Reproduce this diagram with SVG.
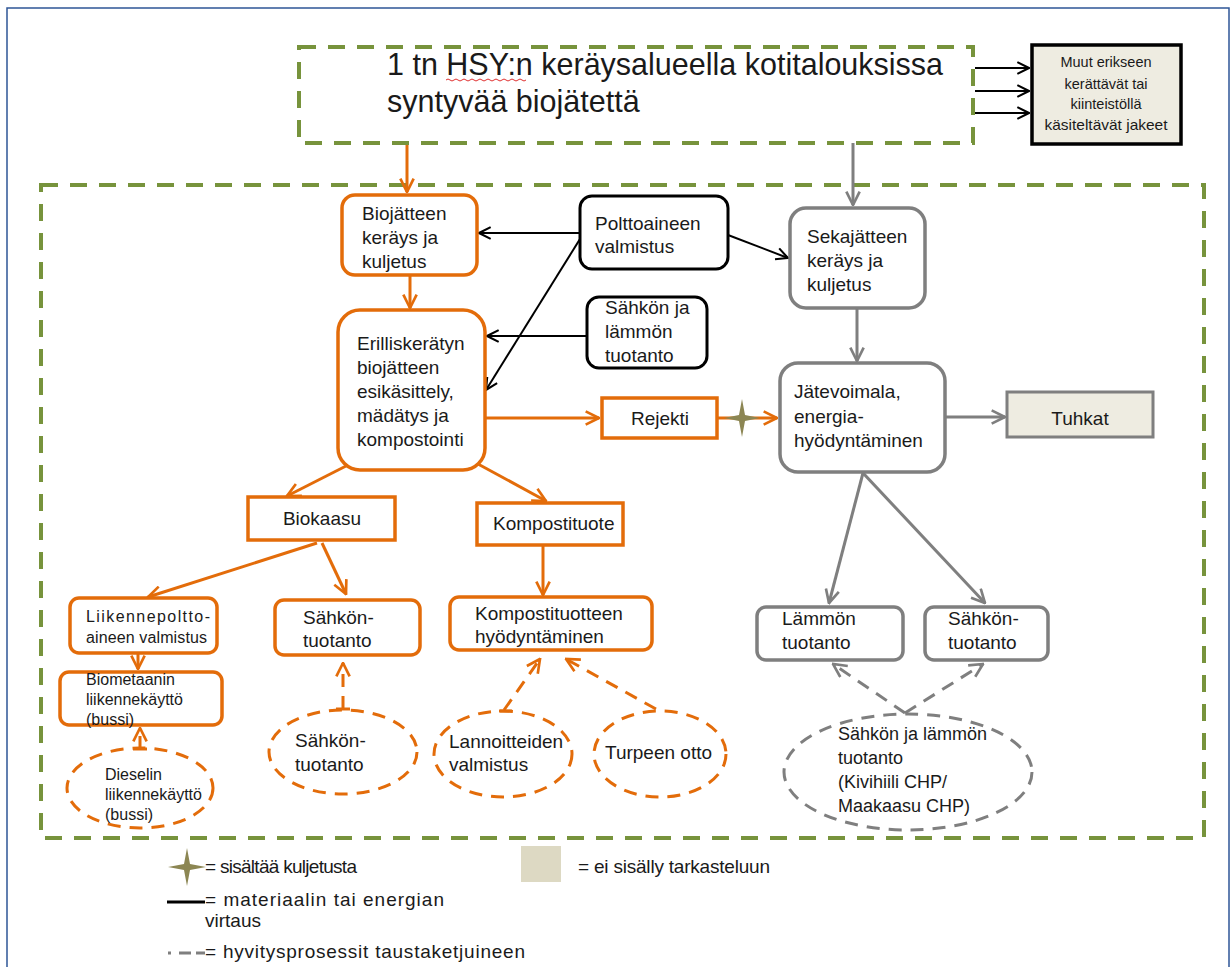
<svg xmlns="http://www.w3.org/2000/svg" width="1232" height="967" viewBox="0 0 1232 967">
<style>
text{font-family:"Liberation Sans",Arial,sans-serif;fill:#1a1a1a;}
.t19{font-size:19px;}
.t18{font-size:18px;}
.t16{font-size:16px;}
.t14{font-size:14.5px;}
.lg{font-size:19px;}
.ob{fill:#fff;stroke:#E36C0A;stroke-width:3.5;}
.gb{fill:#fff;stroke:#7F7F7F;stroke-width:3.5;}
.kb{fill:#fff;stroke:#000;stroke-width:3;}
.grn{fill:none;stroke:#77933C;stroke-width:4;stroke-dasharray:17 12;}
.oa{fill:none;stroke:#E36C0A;stroke-width:3;}
.ga{fill:none;stroke:#7F7F7F;stroke-width:3;}
.ka{fill:none;stroke:#000;stroke-width:2;}
.od{fill:none;stroke:#E36C0A;stroke-width:3;stroke-dasharray:13 9;}
.gd{fill:none;stroke:#7F7F7F;stroke-width:3;stroke-dasharray:13 9;}
.star{fill:#8C8653;}
</style>
<defs>
<marker id="mo" viewBox="0 0 12 12" refX="11" refY="6" markerWidth="16" markerHeight="16" markerUnits="userSpaceOnUse" orient="auto"><path d="M1,1 L11,6 L1,11" fill="none" stroke="#E36C0A" stroke-width="2"/></marker>
<marker id="mg" viewBox="0 0 12 12" refX="11" refY="6" markerWidth="16" markerHeight="16" markerUnits="userSpaceOnUse" orient="auto"><path d="M1,1 L11,6 L1,11" fill="none" stroke="#7F7F7F" stroke-width="2"/></marker>
<marker id="mk" viewBox="0 0 12 12" refX="11" refY="6" markerWidth="14" markerHeight="14" markerUnits="userSpaceOnUse" orient="auto"><path d="M1,1 L11,6 L1,11" fill="none" stroke="#000" stroke-width="1.8"/></marker>
</defs>
<rect x="7" y="8" width="1222" height="975" fill="#fff" stroke="#2E5597" stroke-width="1.5"/>
<rect class="grn" x="41" y="185" width="1163" height="653"/>

<g id="connectors">
<line class="oa" x1="407" y1="143" x2="407" y2="192" marker-end="url(#mo)"/>
<line class="ga" x1="853" y1="143" x2="853" y2="205" marker-end="url(#mg)"/>
<line class="ka" x1="975" y1="68" x2="1029" y2="68" marker-end="url(#mk)"/>
<line class="ka" x1="975" y1="91" x2="1029" y2="91" marker-end="url(#mk)"/>
<line class="ka" x1="975" y1="113" x2="1029" y2="113" marker-end="url(#mk)"/>
<line class="ka" x1="580" y1="233" x2="479" y2="233" marker-end="url(#mk)"/>
<line class="ka" x1="580" y1="239" x2="486" y2="390" marker-end="url(#mk)"/>
<line class="ka" x1="728" y1="235" x2="788" y2="258" marker-end="url(#mk)"/>
<line class="ka" x1="587" y1="336" x2="487" y2="336" marker-end="url(#mk)"/>
<line class="oa" x1="410" y1="275" x2="410" y2="308" marker-end="url(#mo)"/>
<line class="oa" x1="485" y1="418" x2="599" y2="418" marker-end="url(#mo)"/>
<line class="oa" x1="717" y1="418" x2="777" y2="418" marker-end="url(#mo)"/>
<line class="ga" x1="857" y1="308" x2="857" y2="361" marker-end="url(#mg)"/>
<line class="ga" x1="945" y1="417" x2="1005" y2="417" marker-end="url(#mg)"/>
<line class="ga" x1="863" y1="473" x2="829" y2="603" marker-end="url(#mg)"/>
<line class="ga" x1="863" y1="473" x2="985" y2="603" marker-end="url(#mg)"/>
<line class="oa" x1="348" y1="465" x2="287" y2="496" marker-end="url(#mo)"/>
<line class="oa" x1="478" y1="464" x2="546" y2="501" marker-end="url(#mo)"/>
<line class="oa" x1="317" y1="543" x2="148" y2="597" marker-end="url(#mo)"/>
<line class="oa" x1="322" y1="543" x2="346" y2="594" marker-end="url(#mo)"/>
<line class="oa" x1="138" y1="653" x2="138" y2="669" marker-end="url(#mo)"/>
<line class="oa" x1="543" y1="545" x2="543" y2="595" marker-end="url(#mo)"/>
<line class="od" x1="140" y1="749" x2="140" y2="728" marker-end="url(#mo)"/>
<line class="oa" x1="133" y1="749" x2="147" y2="749"/>
<line class="od" x1="343" y1="709" x2="343" y2="663" marker-end="url(#mo)"/>
<line class="oa" x1="336" y1="709" x2="350" y2="709"/>
<line class="od" x1="504" y1="710" x2="540" y2="659" marker-end="url(#mo)"/>
<line class="oa" x1="499" y1="711" x2="512" y2="711"/>
<line class="od" x1="656" y1="709" x2="566" y2="659" marker-end="url(#mo)"/>
<line class="gd" x1="905" y1="713" x2="833" y2="664" marker-end="url(#mg)"/>
<line class="gd" x1="905" y1="713" x2="983" y2="664" marker-end="url(#mg)"/>
<path class="star" d="M742,399 L745,415 L760,418 L745,421 L742,437 L739,421 L724,418 L739,415 Z"/>
</g>

<g id="top">
<rect class="grn" x="299" y="47" width="674" height="96"/>
<text x="387" y="75" font-size="30.5">1 tn HSY:n keräysalueella kotitalouksissa</text>
<text x="387" y="112" font-size="30.5">syntyvää biojätettä</text>
<path d="M446,80 q2,-2 4,0 t4,0 t4,0 t4,0 t4,0 t4,0 t4,0 t4,0 t4,0 t4,0 t4,0 t4,0 t4,0 t4,0 t4,0 t4,0 t4,0 t4,0 t4,0 t4,0" fill="none" stroke="#E03030" stroke-width="1"/>
</g>

<g id="muut">
<rect x="1032" y="45" width="149" height="99" fill="#EEECE1" stroke="#000" stroke-width="3.5"/>
<text class="t14" x="1106" y="67" text-anchor="middle">Muut erikseen</text>
<text class="t14" x="1106" y="89" text-anchor="middle">kerättävät tai</text>
<text class="t14" x="1106" y="109" text-anchor="middle">kiinteistöllä</text>
<text class="t14" x="1106" y="130" text-anchor="middle" textLength="123" lengthAdjust="spacingAndGlyphs">käsiteltävät jakeet</text>
</g>

<g id="biojatteen">
<rect class="ob" x="342" y="195" width="135" height="80" rx="13"/>
<text class="t19" x="362" y="220">Biojätteen</text>
<text class="t19" x="362" y="244">keräys ja</text>
<text class="t19" x="362" y="268">kuljetus</text>
</g>

<g id="polttoaineen">
<rect class="kb" x="580" y="196" width="148" height="73" rx="12"/>
<text class="t19" x="595" y="230">Polttoaineen</text>
<text class="t19" x="595" y="253">valmistus</text>
</g>

<g id="sahkon-lammon">
<rect class="kb" x="587" y="297" width="120" height="71" rx="12"/>
<text class="t19" x="605" y="314">Sähkön ja</text>
<text class="t19" x="605" y="338">lämmön</text>
<text class="t19" x="605" y="362">tuotanto</text>
</g>

<g id="erilliskeratyn">
<rect class="ob" x="338" y="310" width="147" height="160" rx="22"/>
<text class="t19" x="357" y="350">Erilliskerätyn</text>
<text class="t19" x="357" y="374">biojätteen</text>
<text class="t19" x="357" y="398">esikäsittely,</text>
<text class="t19" x="357" y="422">mädätys ja</text>
<text class="t19" x="357" y="446">kompostointi</text>
</g>

<g id="rejekti">
<rect class="ob" x="602" y="398" width="115" height="40"/>
<text class="t19" x="660" y="425" text-anchor="middle">Rejekti</text>
</g>

<g id="sekajatteen">
<rect class="gb" x="790" y="208" width="135" height="100" rx="16"/>
<text class="t19" x="807" y="243">Sekajätteen</text>
<text class="t19" x="807" y="267">keräys ja</text>
<text class="t19" x="807" y="291">kuljetus</text>
</g>

<g id="jatevoimala">
<rect class="gb" x="780" y="363" width="165" height="109" rx="18"/>
<text class="t19" x="794" y="398">Jätevoimala,</text>
<text class="t19" x="794" y="423">energia-</text>
<text class="t19" x="794" y="447">hyödyntäminen</text>
</g>

<g id="tuhkat">
<rect x="1007" y="392" width="146" height="45" fill="#EEECE1" stroke="#7F7F7F" stroke-width="3"/>
<text class="t19" x="1080" y="425" text-anchor="middle">Tuhkat</text>
</g>

<g id="biokaasu">
<rect class="ob" x="248" y="497" width="147" height="43"/>
<text class="t19" x="322" y="525" text-anchor="middle">Biokaasu</text>
</g>

<g id="kompostituote">
<rect class="ob" x="477" y="503" width="146" height="42"/>
<text class="t19" x="493" y="530">Kompostituote</text>
</g>

<g id="liikennepoltto">
<rect class="ob" x="70" y="598" width="147" height="55" rx="9"/>
<text class="t16" x="86" y="622" textLength="124" lengthAdjust="spacing">Liikennepoltto-</text>
<text class="t16" x="86" y="643" textLength="121" lengthAdjust="spacing">aineen valmistus</text>
</g>

<g id="biometaanin">
<rect class="ob" x="60" y="672" width="162" height="53" rx="9"/>
<text class="t16" x="86" y="685">Biometaanin</text>
<text class="t16" x="86" y="705">liikennekäyttö</text>
<text class="t16" x="86" y="725">(bussi)</text>
</g>

<g id="dieselin">
<ellipse class="od" cx="140" cy="788" rx="73" ry="40"/>
<text class="t16" x="105" y="780">Dieselin</text>
<text class="t16" x="105" y="800">liikennekäyttö</text>
<text class="t16" x="105" y="820">(bussi)</text>
</g>

<g id="sahkontuotanto-o">
<rect class="ob" x="275" y="600" width="145" height="55" rx="9"/>
<text class="t19" x="303" y="624">Sähkön-</text>
<text class="t19" x="303" y="647">tuotanto</text>
</g>

<g id="sahkontuotanto-e">
<ellipse class="od" cx="343" cy="752" rx="74" ry="42"/>
<text class="t19" x="295" y="747">Sähkön-</text>
<text class="t19" x="295" y="771">tuotanto</text>
</g>

<g id="kompostituotteen">
<rect class="ob" x="450" y="597" width="202" height="53" rx="9"/>
<text class="t19" x="475" y="620">Kompostituotteen</text>
<text class="t19" x="475" y="643">hyödyntäminen</text>
</g>

<g id="lannoitteiden">
<ellipse class="od" cx="503" cy="754" rx="69" ry="43"/>
<text class="t19" x="449" y="748">Lannoitteiden</text>
<text class="t19" x="449" y="771">valmistus</text>
</g>

<g id="turpeen">
<ellipse class="od" cx="660" cy="754" rx="66" ry="43"/>
<text class="t19" x="605" y="759">Turpeen otto</text>
</g>

<g id="lammon">
<rect class="gb" x="757" y="607" width="146" height="53" rx="9"/>
<text class="t19" x="782" y="625">Lämmön</text>
<text class="t19" x="782" y="649">tuotanto</text>
</g>

<g id="sahkon-g">
<rect class="gb" x="925" y="607" width="123" height="53" rx="9"/>
<text class="t19" x="948" y="625">Sähkön-</text>
<text class="t19" x="948" y="649">tuotanto</text>
</g>

<g id="chp">
<ellipse class="gd" cx="908" cy="772" rx="124" ry="58"/>
<text class="t18" x="838" y="740">Sähkön ja lämmön</text>
<text class="t18" x="838" y="764">tuotanto</text>
<text class="t18" x="838" y="788">(Kivihiili CHP/</text>
<text class="t18" x="838" y="812">Maakaasu CHP)</text>
</g>

<g id="legend">
<path class="star" d="M187,848 L190,864 L206,867 L190,870 L187,886 L184,870 L168,867 L184,864 Z"/>
<text class="lg" x="205" y="873" textLength="152" lengthAdjust="spacing">= sisältää kuljetusta</text>
<rect x="521" y="846" width="40" height="36" fill="#DDD9C3"/>
<text class="lg" x="578" y="873" textLength="192" lengthAdjust="spacing">= ei sisälly tarkasteluun</text>
<line x1="167" y1="902" x2="205" y2="902" stroke="#000" stroke-width="3"/>
<text class="lg" x="205" y="906" textLength="239" lengthAdjust="spacing">= materiaalin tai energian</text>
<text class="lg" x="205" y="927">virtaus</text>
<line x1="168" y1="953" x2="205" y2="953" stroke="#7F7F7F" stroke-width="3" stroke-dasharray="3 8 12 5 12 0"/>
<text class="lg" x="205" y="958" textLength="320" lengthAdjust="spacing">= hyvitysprosessit taustaketjuineen</text>
</g>
</svg>
